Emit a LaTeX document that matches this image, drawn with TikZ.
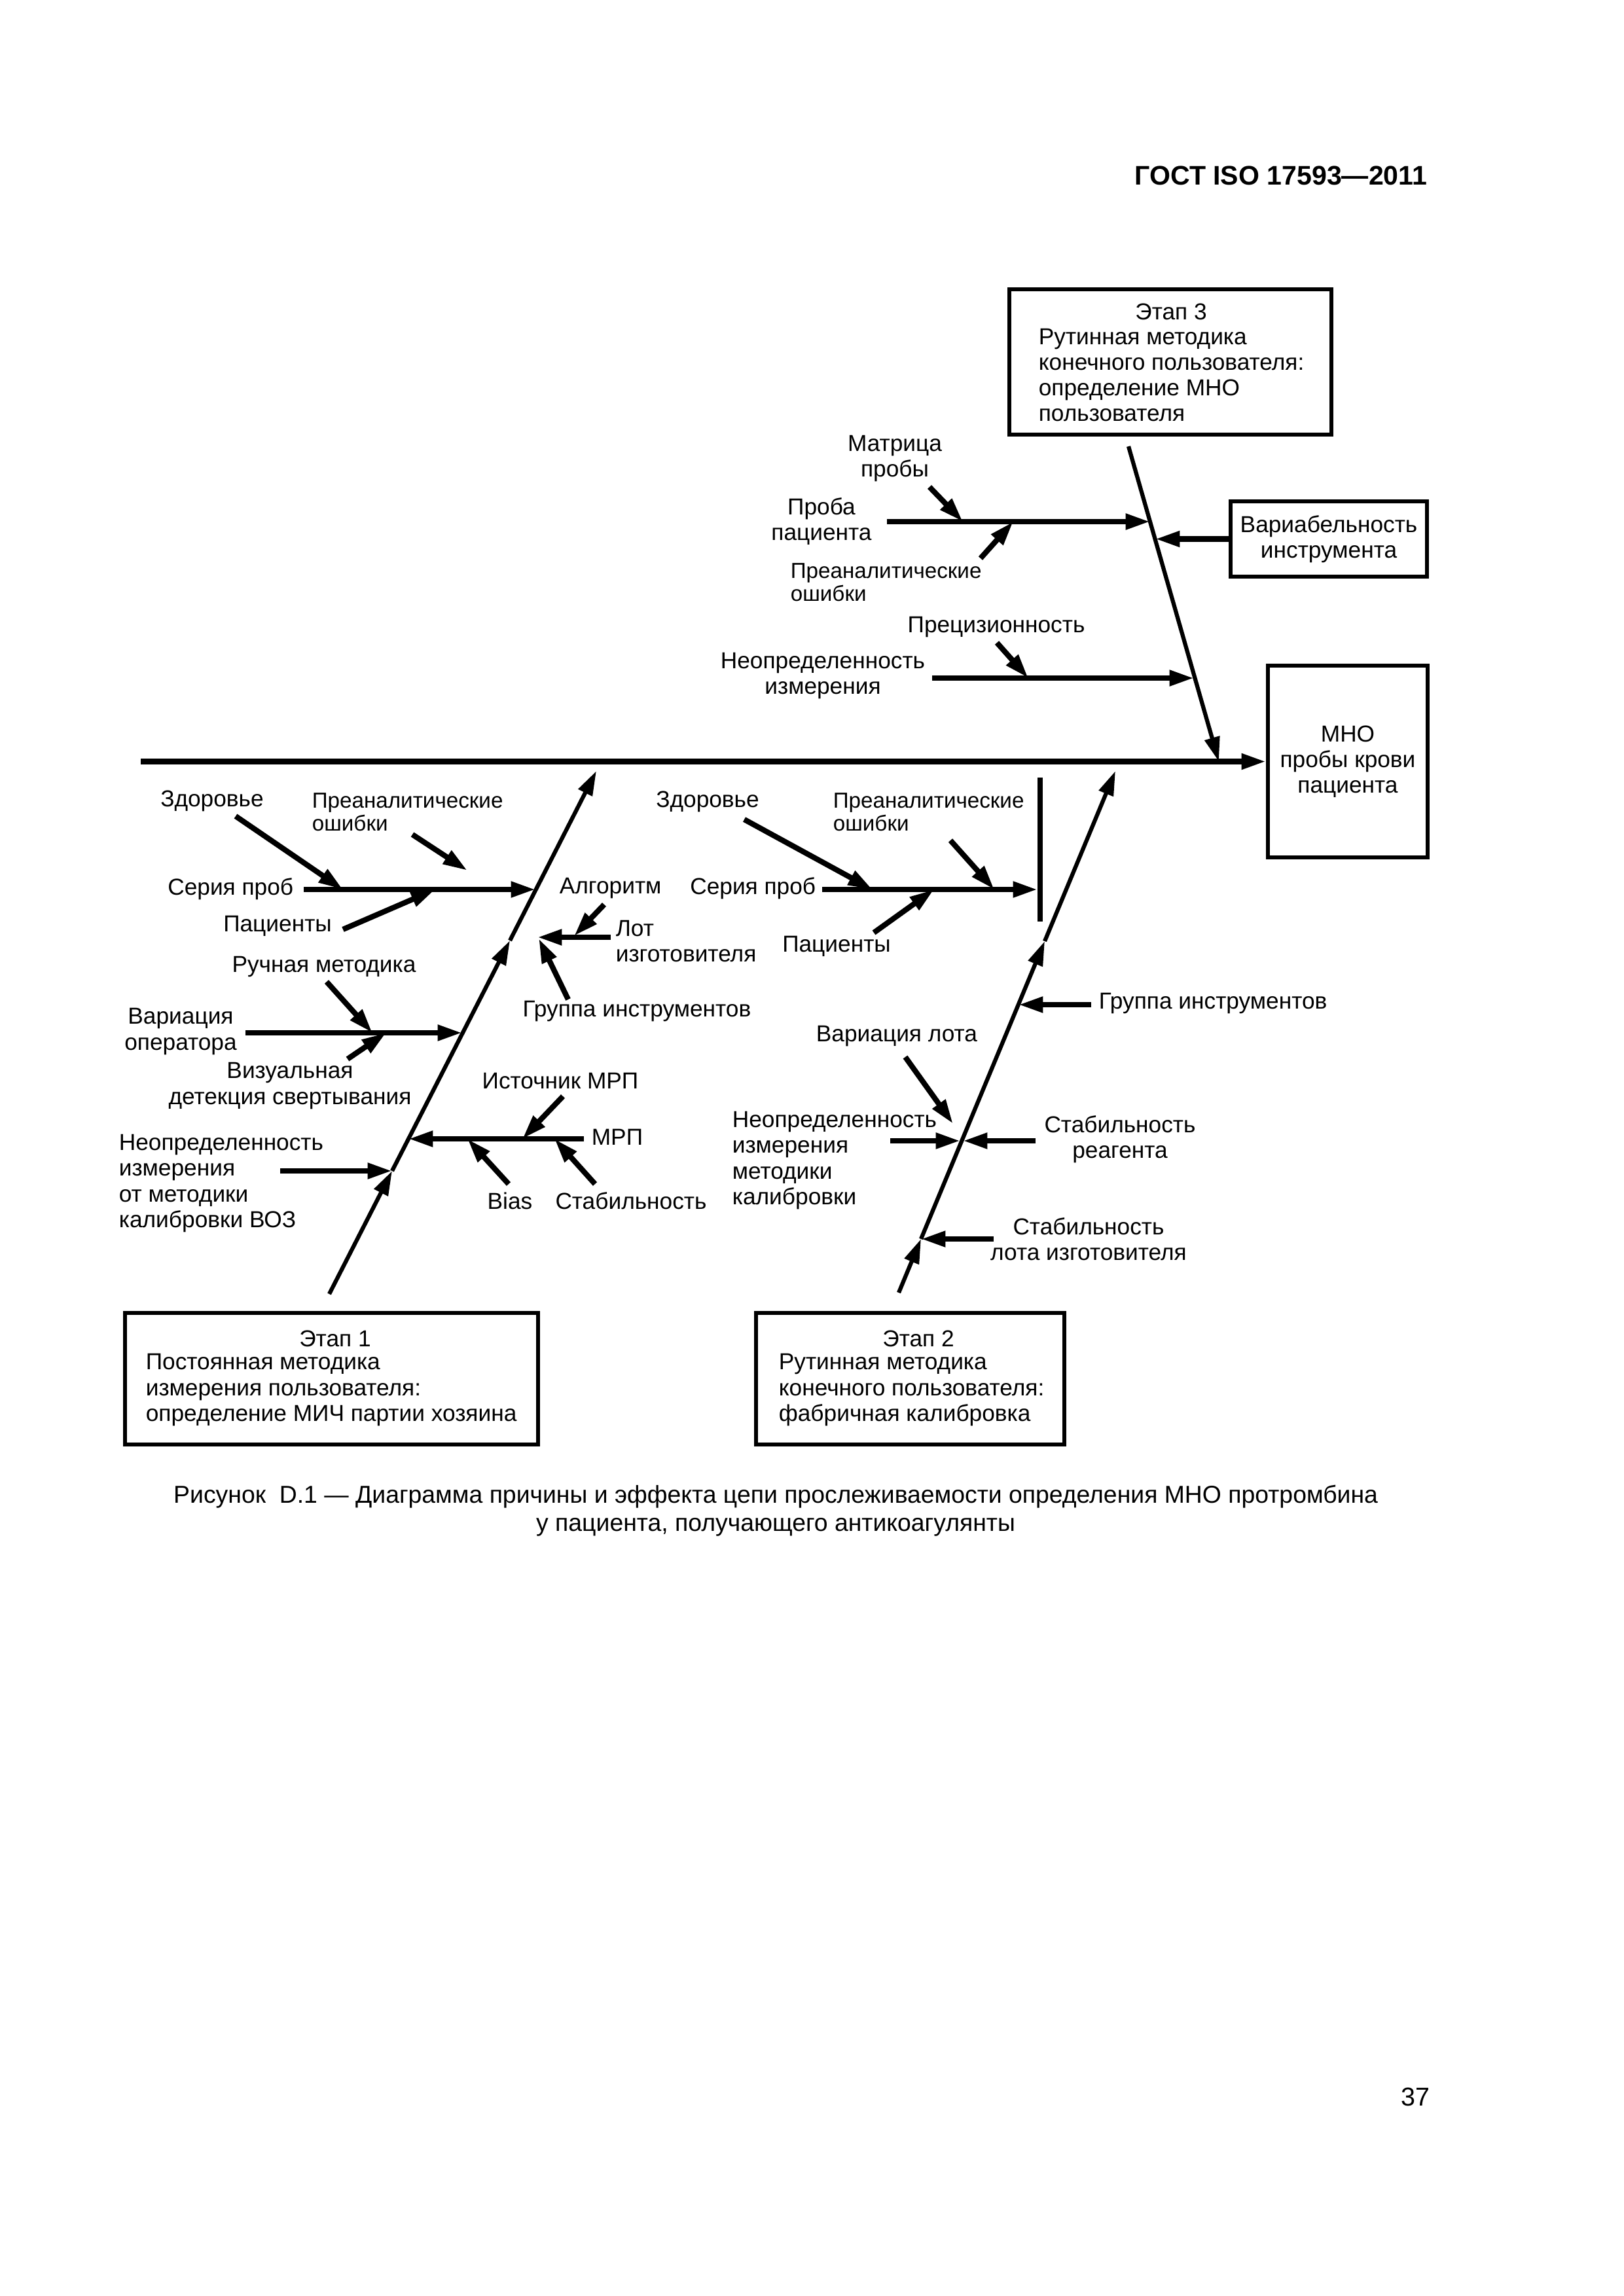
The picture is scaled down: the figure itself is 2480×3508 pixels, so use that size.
\documentclass[tikz,border=0pt]{standalone}
\usepackage{fontspec}
\setmainfont{Liberation Sans}
\usetikzlibrary{arrows.meta}
\begin{document}
\begin{tikzpicture}[x=0.008467cm,y=-0.008467cm,
  lbl/.style={inner sep=0pt, font=\fontsize{8.5}{9.4}\selectfont, align=center},
  lbll/.style={lbl, align=left},
  lblt/.style={lbll, font=\fontsize{8.0}{8.4}\selectfont},
  arr/.style={line width=2pt, -{Triangle[length=9pt,width=5.5pt]}},
  bone/.style={line width=1.5pt, -{Triangle[length=9pt,width=5.5pt]}},
  bar/.style={line width=1.7pt},
  box/.style={draw, line width=1.5pt, inner sep=0pt},
]
\useasboundingbox (0,0) rectangle (2480,3508);

% header, page number, caption
\node[anchor=east, inner sep=0pt, font=\fontsize{9.9}{11}\selectfont\bfseries] (hdr) at (2181,268) {ГОСТ ISO 17593—2011};
\node[anchor=east, inner sep=0pt, font=\fontsize{9.5}{11}\selectfont] (pg) at (2185,3204) {37};
\node[inner sep=0pt, align=center, font=\fontsize{9.0}{10.3}\selectfont] (cap) at (1185,2308)
  {Рисунок\ \ D.1 — Диаграмма причины и эффекта цепи прослеживаемости определения МНО протромбина\\у пациента, получающего антикоагулянты};

% boxes
\node[box, minimum width=2.066cm, minimum height=2.481cm, align=center, font=\fontsize{8.5}{9.4}\selectfont] (mho) at (2059,1163.5) {МНО\\пробы крови\\пациента};
\node[box, minimum width=4.166cm, minimum height=1.880cm] (s3box) at (1788,553) {};
\node[lbl] (s3title) at (1789,476) {Этап 3};
\node[lbll, anchor=west] (s3body) at (1586,573) {Рутинная методика\\конечного пользователя:\\определение МНО\\пользователя};
\node[box, minimum width=2.540cm, minimum height=0.974cm, align=center, font=\fontsize{8.5}{9.4}\selectfont] (varb) at (2030,823.5) {Вариабельность\\инструмента};
\node[box, minimum width=5.343cm, minimum height=1.702cm] (s1box) at (506.5,2106.5) {};
\node[lbl] (s1title) at (512,2045) {Этап 1};
\node[lbll, anchor=west] (s1body) at (222,2123.5) {Постоянная методика\\измерения пользователя:\\определение МИЧ партии хозяина};
\node[box, minimum width=3.988cm, minimum height=1.702cm] (s2box) at (1390.5,2106.5) {};
\node[lbl] (s2title) at (1403,2045) {Этап 2};
\node[lbll, anchor=west] (s2body) at (1189,2123.5) {Рутинная методика\\конечного пользователя:\\фабричная калибровка};

% spine
\coordinate (tspine) at (215,1163.5);
\draw[arr] (tspine) -- (mho.west);

% ---------- stage 3 ----------
\coordinate (b3top) at (1724,682);
\coordinate (b3end) at (1862,1163.5);
\draw[bone] (b3top) -- (b3end);
\coordinate (tproba) at (1355,797);  \coordinate (hproba) at (1757,797);
\coordinate (tmatr) at (1420,744);   \coordinate (hmatr) at (1471,797);
\coordinate (tpre3) at (1498,853);   \coordinate (hpre3) at (1548,797);
\coordinate (tneo3) at (1424,1036);  \coordinate (hneo3) at (1824,1036);
\coordinate (tprec) at (1523,982);   \coordinate (hprec) at (1571,1036);
\coordinate (hvarb) at (1765,823.5);
\draw[arr] (tproba) -- (hproba);
\draw[arr] (tmatr) -- (hmatr);
\draw[arr] (tpre3) -- (hpre3);
\draw[arr] (tneo3) -- (hneo3);
\draw[arr] (tprec) -- (hprec);
\draw[arr] (varb.west) -- (hvarb);
\node[lbl] (lmatr) at (1367,701) {Матрица\\пробы};
\node[lbl] (lproba) at (1255,797) {Проба\\пациента};
\node[lblt, anchor=west] (lpre3) at (1207,890) {Преаналитические\\ошибки};
\node[lbl] (lprec) at (1522,958) {Прецизионность};
\node[lbl] (lneo3) at (1257,1033) {Неопределенность\\измерения};

% ---------- stage 1 ----------
\coordinate (b1a) at (503,1977);
\coordinate (b1p1) at (599,1789);
\coordinate (b1p2) at (779,1437);
\coordinate (b1b) at (911,1178);
\draw[bone] (b1a) -- (b1p1);
\draw[bone] (b1p1) -- (b1p2);
\draw[bone] (b1p2) -- (b1b);
\coordinate (tser1) at (464,1359);  \coordinate (hser1) at (818,1359);
\coordinate (tzd1) at (360,1247);   \coordinate (hzd1) at (524,1359);
\coordinate (tpa1) at (630,1275);   \coordinate (hpa1) at (714,1330);
\coordinate (tpac1) at (524,1420);  \coordinate (hpac1) at (665,1359);
\coordinate (talg) at (923,1382);   \coordinate (halg) at (877,1430);
\coordinate (tlot) at (933,1432);   \coordinate (hlot) at (821,1432);
\coordinate (tgr1) at (868,1527);   \coordinate (hgr1) at (823,1434);
\coordinate (tvar1) at (375,1578);  \coordinate (hvar1) at (706,1578);
\coordinate (truch) at (499,1500);  \coordinate (hruch) at (569,1578);
\coordinate (tviz) at (531,1618);   \coordinate (hviz) at (590,1578);
\coordinate (tmrp) at (892,1740);   \coordinate (hmrp) at (624,1740);
\coordinate (tist) at (860,1675);   \coordinate (hist) at (798,1740);
\coordinate (tbias) at (777,1809);  \coordinate (hbias) at (714,1740);
\coordinate (tstab1) at (909,1809); \coordinate (hstab1) at (847,1740);
\coordinate (tneo1) at (428,1789);
\draw[arr] (tser1) -- (hser1);
\draw[arr] (tzd1) -- (hzd1);
\draw[arr] (tpa1) -- (hpa1);
\draw[arr] (tpac1) -- (hpac1);
\draw[arr] (talg) -- (halg);
\draw[arr] (tlot) -- (hlot);
\draw[arr] (tgr1) -- (hgr1);
\draw[arr] (tvar1) -- (hvar1);
\draw[arr] (truch) -- (hruch);
\draw[arr] (tviz) -- (hviz);
\draw[arr] (tmrp) -- (hmrp);
\draw[arr] (tist) -- (hist);
\draw[arr] (tbias) -- (hbias);
\draw[arr] (tstab1) -- (hstab1);
\draw[arr] (tneo1) -- (b1p1);
\node[lbl] (lzd1) at (324,1224) {Здоровье};
\node[lblt, anchor=west] (lpa1) at (476,1241) {Преаналитические\\ошибки};
\node[lbl, anchor=east] (lser1) at (449,1358) {Серия проб};
\node[lbl] (lpac1) at (424,1415) {Пациенты};
\node[lbl, anchor=west] (lalg) at (854,1357) {Алгоритм};
\node[lbll, anchor=west] (llot) at (940,1438) {Лот\\изготовителя};
\node[lbl] (lgr1) at (973,1545) {Группа инструментов};
\node[lbl] (lruch) at (495,1477) {Ручная методика};
\node[lbl] (lvar1) at (276,1576) {Вариация\\оператора};
\node[lbl] (lviz) at (443,1659) {Визуальная\\детекция свертывания};
\node[lbl] (list) at (856,1652) {Источник МРП};
\node[lbl, anchor=west] (lmrp) at (903,1737) {МРП};
\node[lbl] (lbias) at (779,1835) {Bias};
\node[lbl] (lstab1) at (964,1835) {Стабильность};
\node[lbll, anchor=west] (lneo1) at (181,1808) {Неопределенность\\измерения\\от методики\\калибровки ВОЗ};

% ---------- stage 2 ----------
\coordinate (b2a) at (1373,1975);
\coordinate (b2q1) at (1407,1893);
\coordinate (b2q2) at (1596,1438);
\coordinate (b2b) at (1704,1178);
\draw[bone] (b2a) -- (b2q1);
\draw[bone] (b2q1) -- (b2q2);
\draw[bone] (b2q2) -- (b2b);
\coordinate (bar2a) at (1589,1188); \coordinate (bar2b) at (1589,1408);
\draw[bar] (bar2a) -- (bar2b);
\coordinate (tser2) at (1256,1359); \coordinate (hser2) at (1585,1359);
\coordinate (tzd2) at (1137,1252);  \coordinate (hzd2) at (1333,1359);
\coordinate (tpa2) at (1452,1284);  \coordinate (hpa2) at (1519,1359);
\coordinate (tpac2) at (1335,1425); \coordinate (hpac2) at (1427,1359);
\coordinate (tgr2) at (1667,1535);  \coordinate (hgr2) at (1556,1535);
\coordinate (tvarl) at (1383,1615); \coordinate (hvarl) at (1456,1717);
\coordinate (tneo2) at (1360,1743); \coordinate (hneo2) at (1467,1743);
\coordinate (tstr) at (1582,1743);  \coordinate (hstr) at (1471,1743);
\coordinate (tstl) at (1518,1893);
\draw[arr] (tser2) -- (hser2);
\draw[arr] (tzd2) -- (hzd2);
\draw[arr] (tpa2) -- (hpa2);
\draw[arr] (tpac2) -- (hpac2);
\draw[arr] (tgr2) -- (hgr2);
\draw[arr] (tvarl) -- (hvarl);
\draw[arr] (tneo2) -- (hneo2);
\draw[arr] (tstr) -- (hstr);
\draw[arr] (tstl) -- (b2q1);
\node[lbl] (lzd2) at (1081,1225) {Здоровье};
\node[lblt, anchor=west] (lpa2) at (1272,1241) {Преаналитические\\ошибки};
\node[lbl, anchor=east] (lser2) at (1247,1357) {Серия проб};
\node[lbl] (lpac2) at (1278,1446) {Пациенты};
\node[lbl, anchor=west] (lgr2) at (1678,1533) {Группа инструментов};
\node[lbl] (lvarl) at (1370,1583) {Вариация лота};
\node[lbll, anchor=west] (lneo2) at (1118,1773) {Неопределенность\\измерения\\методики\\калибровки};
\node[lbl] (lstr) at (1711,1741) {Стабильность\\реагента};
\node[lbl] (lstl) at (1663,1893) {Стабильность\\лота изготовителя};
\end{tikzpicture}
\end{document}
